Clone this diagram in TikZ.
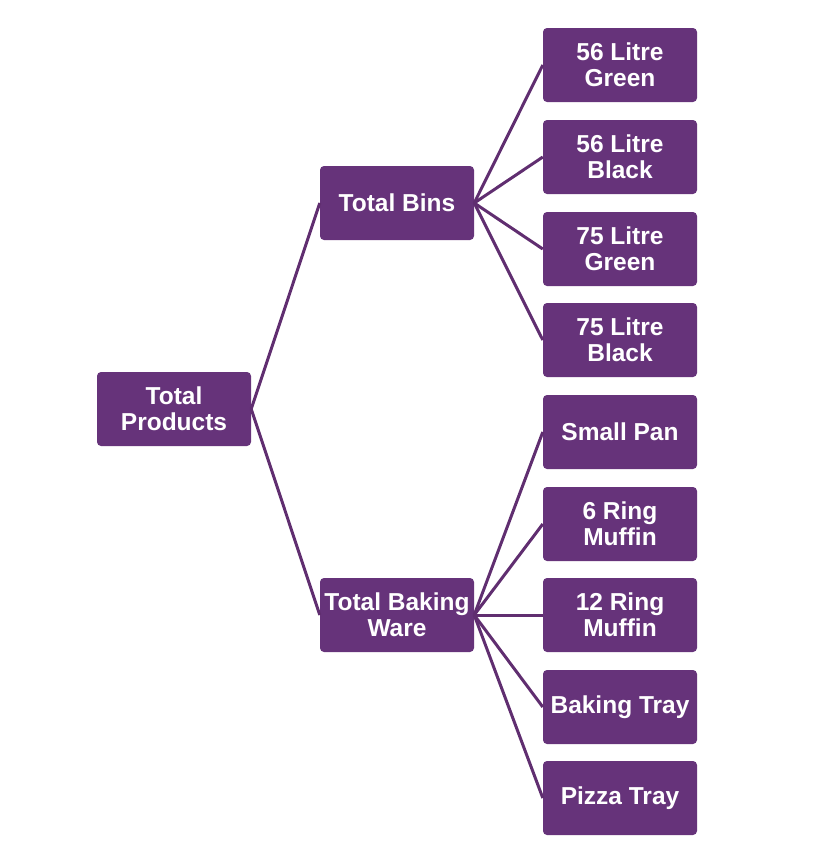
\documentclass[tikz,border=0pt]{standalone}
\usepackage{fontspec}
\setmainfont{Liberation Sans}
\definecolor{boxpurple}{RGB}{102,51,122}
\definecolor{linepurple}{RGB}{96,46,112}
\begin{document}
\begin{tikzpicture}[x=1pt,y=-1pt,
  box/.style={fill=boxpurple, draw=none, rounded corners=4pt, minimum width=154pt, minimum height=74pt,
    inner sep=0pt, text=white, font=\fontsize{24.5}{26}\selectfont\bfseries, align=center},
  conn/.style={draw=linepurple, line width=3pt}]
\useasboundingbox (0,0) rectangle (826,854);
\node[box] (tp) at (174,409) {Total\\Products};
\node[box] (tb) at (397,203) {Total Bins};
\node[box] (tbw) at (397,615) {Total Baking\\Ware};
\node[box] (a1) at (620,65) {56 Litre\\Green};
\node[box] (a2) at (620,157) {56 Litre\\Black};
\node[box] (a3) at (620,249) {75 Litre\\Green};
\node[box] (a4) at (620,340) {75 Litre\\Black};
\node[box] (b1) at (620,432) {Small Pan};
\node[box] (b2) at (620,524) {6 Ring\\Muffin};
\node[box] (b3) at (620,615) {12 Ring\\Muffin};
\node[box] (b4) at (620,707) {Baking Tray};
\node[box] (b5) at (620,798) {Pizza Tray};
\foreach \c in {tb,tbw} \draw[conn] (tp.east) -- (\c.west);
\foreach \c in {a1,a2,a3,a4} \draw[conn] (tb.east) -- (\c.west);
\foreach \c in {b1,b2,b3,b4,b5} \draw[conn] (tbw.east) -- (\c.west);
\end{tikzpicture}
\end{document}
